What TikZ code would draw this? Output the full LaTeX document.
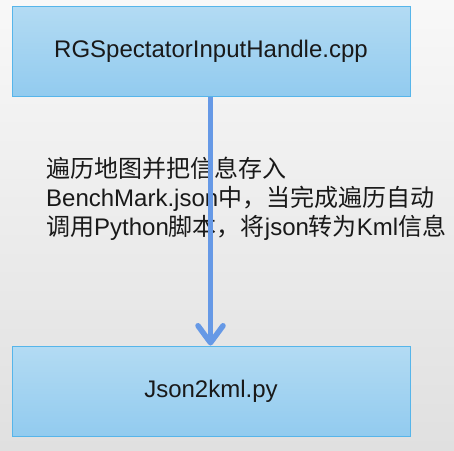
\documentclass[tikz,border=0pt]{standalone}
\usepackage{fontspec}
\setmainfont{Liberation Sans}
\newfontfamily\cjk{Noto Sans CJK SC}
\usetikzlibrary{arrows.meta}
\definecolor{boxtop}{HTML}{B3DBF3}
\definecolor{boxbot}{HTML}{92CBEF}
\definecolor{boxline}{HTML}{56B5EA}
\definecolor{arrowc}{HTML}{6699E6}
\definecolor{bgtop}{HTML}{F8F8F8}
\definecolor{bgbot}{HTML}{E0E0E0}
\tikzset{
  filebox/.style={draw=boxline, line width=1pt, top color=boxtop, bottom color=boxbot,
    minimum width=398pt, minimum height=90pt, inner sep=0pt, text=black!90,
    font=\fontsize{24}{28}\selectfont},
  flowarrow/.style={draw=arrowc, line width=5.5pt, -{Straight Barb[length=17pt,width=25pt,round]}},
  note/.style={anchor=north west, inner sep=0pt, align=left, text=black!90,
    font=\fontsize{24}{29}\selectfont}
}
\begin{document}
\begin{tikzpicture}[x=1pt,y=-1pt]
\useasboundingbox (0,0) rectangle (454,450);
\shade[top color=bgtop, bottom color=bgbot] (0,0) rectangle (454,450);
\node[filebox] (top) at (211,51) {RGSpectatorInputHandle.cpp};
\node[filebox] (bot) at (211,391) {Json2kml.py};
\node[note] (txt) at (46,157) {{\cjk 遍历地图并把信息存入}\\
BenchMark.json{\cjk 中，当完成遍历自动}\\
{\cjk 调用}Python{\cjk 脚本，将}json{\cjk 转为}Kml{\cjk 信息}};
\draw[flowarrow] (top.south -| 210.5,0) -- (bot.north -| 210.5,0);
\end{tikzpicture}
\end{document}
